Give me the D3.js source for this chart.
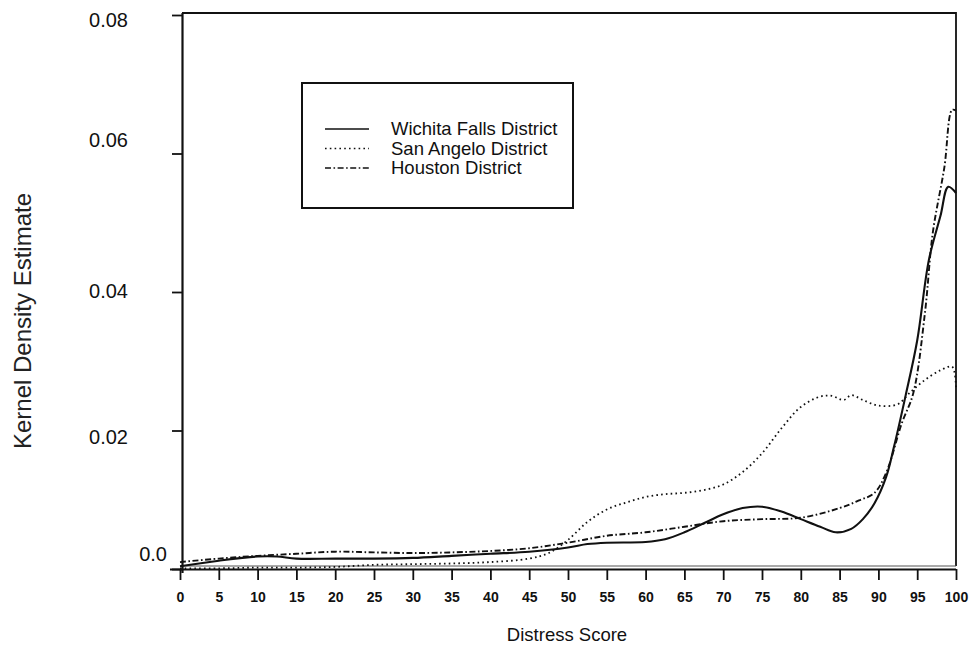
<!DOCTYPE html>
<html>
<head>
<meta charset="utf-8">
<script src="https://cdn.jsdelivr.net/npm/d3@7"></script>
<style>
  html, body { margin: 0; padding: 0; background: #fff; }
  svg { display: block; font-family: "Liberation Sans", Arial, Helvetica, sans-serif; }
</style>
</head>
<body>
<svg id="chart" width="969" height="645"></svg>
<script>
// Kernel density estimates of pavement distress scores by district
const xTicks = [0, 5, 10, 15, 20, 25, 30, 35, 40, 45, 50, 55, 60, 65, 70, 75, 80, 85, 90, 95, 100];
const yTicks = [0, 0.02, 0.04, 0.06, 0.08];
const yTickLabels = ["0.0", "0.02", "0.04", "0.06", "0.08"];

const wichitaScores = [0, 5, 10, 12.5, 15, 20, 25, 30, 35, 40, 45, 50, 52.5, 55, 60, 62.5, 65, 67.5, 70, 72.5, 75, 77.5, 80, 82.5, 84.5, 86.5, 88, 89.5, 91, 92, 93.5, 95, 96.5, 98, 99, 100];
const wichitaDensity = [0.0004, 0.0012, 0.0018, 0.0018, 0.0015, 0.0015, 0.0015, 0.0016, 0.0019, 0.0022, 0.0025, 0.0031, 0.0036, 0.0038, 0.0039, 0.0043, 0.0053, 0.0066, 0.0079, 0.0088, 0.0090, 0.0083, 0.0072, 0.0061, 0.0053, 0.0058, 0.0072, 0.0095, 0.0133, 0.0176, 0.0250, 0.0330, 0.0446, 0.0510, 0.0552, 0.0543];

const sanAngeloScores = [0, 5, 10, 15, 20, 25, 30, 35, 40, 45, 47.5, 50, 52.5, 55, 57.5, 60, 62.5, 65, 67.5, 70, 72.5, 75, 77.5, 80, 82.5, 84, 85.5, 86.5, 88, 90, 92.5, 94, 96, 98, 99.5, 100];
const sanAngeloDensity = [0.0001, 0.0001, 0.0002, 0.0002, 0.0003, 0.0006, 0.0007, 0.0008, 0.0010, 0.0015, 0.0023, 0.0042, 0.0068, 0.0086, 0.0096, 0.0104, 0.0108, 0.0110, 0.0114, 0.0122, 0.0140, 0.0167, 0.0203, 0.0234, 0.0249, 0.0250, 0.0244, 0.0251, 0.0244, 0.0236, 0.0238, 0.0254, 0.0273, 0.0287, 0.0292, 0.0262];

const houstonScores = [0, 5, 10, 15, 20, 25, 30, 35, 40, 45, 50, 55, 60, 65, 70, 75, 80, 85, 87.5, 89.5, 91, 93, 94.5, 96, 97, 98.5, 99.5, 100];
const houstonDensity = [0.0010, 0.0015, 0.0019, 0.0022, 0.0025, 0.0024, 0.0023, 0.0024, 0.0026, 0.0030, 0.0038, 0.0048, 0.0053, 0.0061, 0.0069, 0.0072, 0.0074, 0.0088, 0.0099, 0.0110, 0.0139, 0.0210, 0.0254, 0.0370, 0.0485, 0.0580, 0.0663, 0.0662];

const seriesNames = ["Wichita Falls District", "San Angelo District", "Houston District"];

const svg = d3.select("#chart");

const x = d3.scaleLinear().domain([0, 100]).range([180, 956]);
const y = d3.scaleLinear().domain([0, 0.08]).range([569, 15]);

const styles = [
  { width: 2.1, dash: null },
  { width: 1.8, dash: "1.6,3.2" },
  { width: 1.9, dash: "6,2.5,1.6,2.5" }
];

const series = [
  { name: seriesNames[0], xs: wichitaScores, ys: wichitaDensity, style: styles[0] },
  { name: seriesNames[1], xs: sanAngeloScores, ys: sanAngeloDensity, style: styles[1] },
  { name: seriesNames[2], xs: houstonScores, ys: houstonDensity, style: styles[2] }
];

// plot frame (top and right edges, plus a baseline just above the axis)
svg.append("path")
  .attr("d", `M${x(0) + 2},${y(0.08) - 2} H${x(100)} V${y(0) - 3}`)
  .attr("fill", "none").attr("stroke", "#111").attr("stroke-width", 1.8);
svg.append("line")
  .attr("x1", x(0)).attr("x2", x(100))
  .attr("y1", y(0) - 3).attr("y2", y(0) - 3)
  .attr("stroke", "#555").attr("stroke-width", 1.2);

// density curves
const line = d3.line()
  .x(d => x(d[0]))
  .y(d => y(d[1]))
  .curve(d3.curveCatmullRom.alpha(0.5));

svg.append("g").selectAll("path")
  .data(series)
  .join("path")
  .attr("d", s => line(s.xs.map((v, i) => [v, s.ys[i]])))
  .attr("fill", "none")
  .attr("stroke", "#111")
  .attr("stroke-width", s => s.style.width)
  .attr("stroke-dasharray", s => s.style.dash)
  .attr("stroke-linejoin", "round");

// x axis
const xAxis = svg.append("g")
  .attr("transform", `translate(0,${y(0)})`)
  .call(d3.axisBottom(x).tickValues(xTicks).tickSize(11).tickPadding(12).tickFormat(d3.format("d")));
xAxis.select(".domain").attr("d", `M${x(0) - 10},0.5H${x(100)}`).attr("stroke", "#111").attr("stroke-width", 2);
xAxis.selectAll(".tick line").attr("stroke", "#111").attr("stroke-width", 1.8);
xAxis.selectAll(".tick text").attr("font-size", 14).attr("font-weight", "bold").attr("fill", "#111")
  .attr("font-family", "\"Liberation Sans\", Arial, sans-serif");

// y axis
const yLabelShift = { 0: [39, -15], 0.02: [0, 7], 0.04: [0, -1], 0.06: [0, -13], 0.08: [0, 5] };
const yAxis = svg.append("g")
  .attr("transform", `translate(${x(0) + 2},0)`)
  .call(d3.axisLeft(y).tickValues(yTicks).tickSize(10).tickPadding(44)
    .tickFormat((d, i) => yTickLabels[i]));
yAxis.select(".domain").attr("d", `M0.5,${y(0.08) - 2}V${y(0) + 4}`).attr("stroke", "#111").attr("stroke-width", 2.2);
yAxis.selectAll(".tick line").attr("stroke", "#111").attr("stroke-width", 1.8);
yAxis.selectAll(".tick text")
  .attr("font-size", 20).attr("fill", "#111")
  .attr("font-family", "\"Liberation Sans\", Arial, sans-serif")
  .attr("transform", d => `translate(${yLabelShift[d][0]},${yLabelShift[d][1]})`);

// axis titles
svg.append("text")
  .attr("x", 567).attr("y", 641)
  .attr("text-anchor", "middle")
  .attr("font-size", 18.5).attr("fill", "#111")
  .text("Distress Score");

svg.append("text")
  .attr("transform", "translate(31,321) rotate(-90)")
  .attr("text-anchor", "middle")
  .attr("font-size", 24).attr("fill", "#222")
  .text("Kernel Density Estimate");

// legend
const legend = svg.append("g");
legend.append("rect")
  .attr("x", 302).attr("y", 83).attr("width", 271).attr("height", 125)
  .attr("fill", "#fff").attr("stroke", "#111").attr("stroke-width", 2);
const rows = legend.selectAll("g.row")
  .data(series)
  .join("g")
  .attr("class", "row")
  .attr("transform", (d, i) => `translate(0,${129 + i * 19.5})`);
rows.append("line")
  .attr("x1", 325).attr("x2", 369)
  .attr("stroke", "#111")
  .attr("stroke-width", d => Math.min(d.style.width, 1.5))
  .attr("stroke-dasharray", d => d.style.dash);
rows.append("text")
  .attr("x", 391).attr("y", 0).attr("dy", "0.35em")
  .attr("font-size", 18.5).attr("fill", "#111")
  .text(d => d.name);
</script>
</body>
</html>
